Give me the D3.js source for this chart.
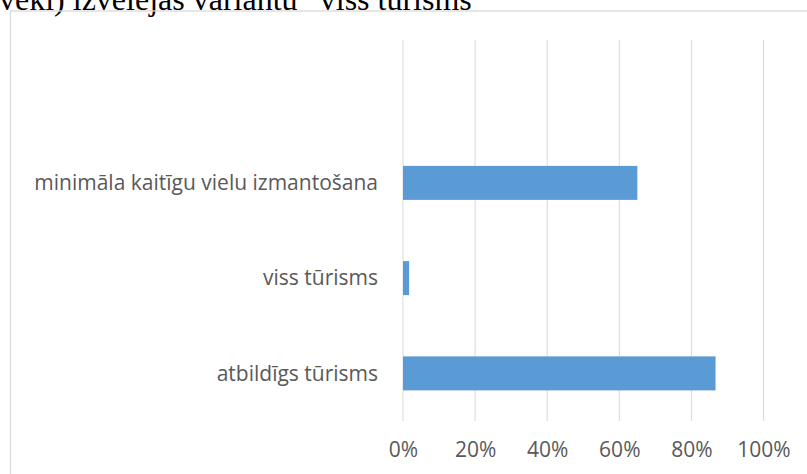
<!DOCTYPE html>
<meta charset="utf-8">
<script src="https://d3js.org/d3.v7.min.js"></script>
<style>
  body { margin: 0; background: #fff; }
  svg { display: block; }
</style>
<div id="chart"></div>
<script>
  // data (top category is empty)
  var categories = ["", "minimāla kaitīgu vielu izmantošana", "viss tūrisms", "atbildīgs tūrisms"];
  var shares = [0, 0.65, 0.017, 0.867];
  var tickValues = [0, 0.2, 0.4, 0.6, 0.8, 1.0];
  var headText = "vēki) izvēlējās variantu “viss tūrisms”";

  var W = 807, H = 474;
  var svg = d3.select("#chart").append("svg")
    .attr("width", W).attr("height", H);

  // text of the page above the chart, cut off at the top
  svg.append("text")
    .attr("x", -1).attr("y", 10)
    .style("font-family", "'Liberation Serif', 'Times New Roman', serif")
    .style("font-size", "32px")
    .style("fill", "#000")
    .text(headText);

  // chart frame
  svg.append("rect")
    .attr("x", 10.5).attr("y", 11)
    .attr("width", 900).attr("height", 600)
    .attr("fill", "none")
    .attr("stroke", "#d9d9d9")
    .attr("stroke-width", 1.3);

  var x = d3.scaleLinear().domain([0, 1]).range([403, 763.5]);
  var y = d3.scaleBand().domain(categories).range([40, 421]).paddingInner(0.643).paddingOuter(0.3215);

  // gridlines
  svg.append("g").selectAll("line")
    .data(tickValues)
    .enter().append("line")
    .attr("x1", function(d) { return x(d); })
    .attr("x2", function(d) { return x(d); })
    .attr("y1", 40).attr("y2", 421)
    .attr("stroke", "#d9d9d9")
    .attr("stroke-width", 1);

  // bars
  svg.append("g").selectAll("rect")
    .data(categories)
    .enter().append("rect")
    .attr("x", x(0))
    .attr("y", function(d) { return y(d); })
    .attr("width", function(d, i) { return x(shares[i]) - x(0); })
    .attr("height", y.bandwidth())
    .attr("fill", "#5b9bd5");

  // category labels
  svg.append("g").selectAll("text")
    .data(categories)
    .enter().append("text")
    .attr("x", 378)
    .attr("y", function(d) { return y(d) + y.bandwidth() / 2; })
    .attr("dy", "0.35em")
    .attr("text-anchor", "end")
    .style("font-family", "'Open Sans', sans-serif")
    .style("font-size", "21px")
    .style("fill", "#595959")
    .text(function(d) { return d; });

  // x axis labels
  var xAxis = d3.axisBottom(x)
    .tickValues(tickValues)
    .tickFormat(d3.format(".0%"))
    .tickSize(0)
    .tickPadding(0);
  var gx = svg.append("g")
    .attr("transform", "translate(0,442)")
    .call(xAxis);
  gx.select(".domain").remove();
  gx.selectAll("text")
    .style("font-family", "'Open Sans', sans-serif")
    .style("font-size", "21px")
    .style("fill", "#595959");
</script>
